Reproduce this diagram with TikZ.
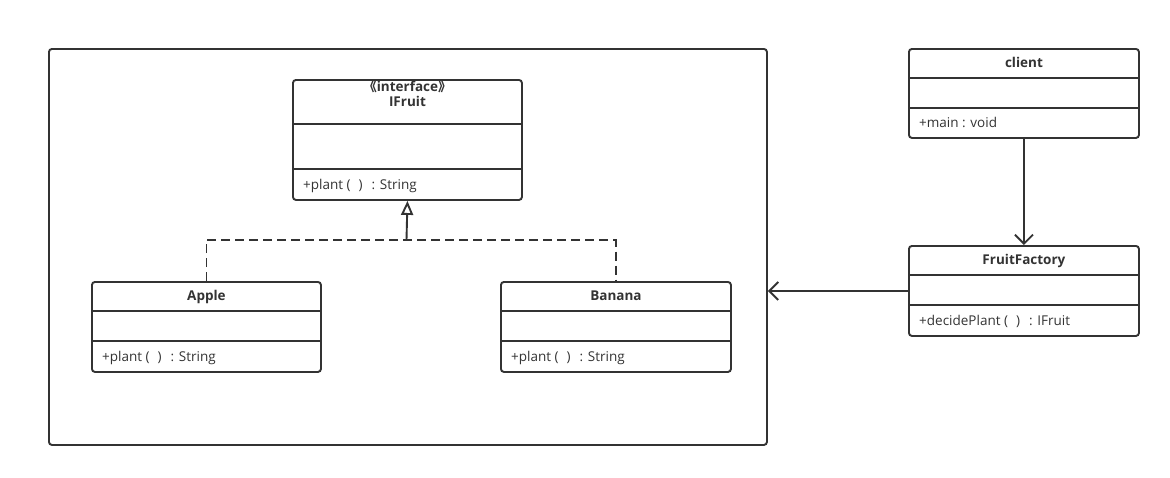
\documentclass[tikz,border=0pt]{standalone}
\usepackage{fontspec}
\setmainfont{Open Sans}
\newfontfamily\cjk{Noto Sans CJK SC}
\usetikzlibrary{arrows.meta}
\definecolor{linec}{HTML}{333333}
\begin{document}
\begin{tikzpicture}[x=1pt,y=-1pt,
  box/.style={draw=linec, line width=1.9pt, rounded corners=3pt, inner sep=0pt, anchor=north west},
  sepl/.style={draw=linec, line width=1.9pt},
  ttl/.style={font=\fontsize{13.5}{15}\selectfont\bfseries, text=linec, inner sep=0pt, text height=9.5pt, text depth=2.5pt},
  meth/.style={font=\fontsize{13.5}{15}\selectfont, text=linec, inner sep=0pt, anchor=west, text height=9.5pt, text depth=2.5pt},
  conn/.style={draw=linec, line width=1.9pt},
  barb/.style={-{Straight Barb[length=9pt,width=18pt,line width=1.9pt]}},
  real/.style={-{Triangle[open,length=14pt,width=12pt,line width=1.9pt]}}
]
\useasboundingbox (0,0) rectangle (1170,477);

% frame
\node[box, minimum width=718pt, minimum height=396pt] (frame) at (48,48) {};

% IFruit
\node[box, minimum width=229pt, minimum height=120pt] (ifruit) at (292,79) {};
\draw[sepl] ([yshift=-45pt]ifruit.north west) -- ([yshift=-45pt]ifruit.north east);
\draw[sepl] ([yshift=-90pt]ifruit.north west) -- ([yshift=-90pt]ifruit.north east);
\node[ttl] (ifruitS) at ([yshift=-8.5pt]ifruit.north) {{\cjk\bfseries 《}interface{\cjk\bfseries 》}};
\node[ttl] (ifruitT) at ([yshift=-24pt]ifruit.north) {IFruit};
\node[meth] (ifruitM) at ([xshift=11pt,yshift=15pt]ifruit.south west) {+plant (\hspace{8pt})\hspace{9pt}: String};

% Apple
\node[box, minimum width=229pt, minimum height=90pt] (apple) at (91,281) {};
\draw[sepl] ([yshift=-30pt]apple.north west) -- ([yshift=-30pt]apple.north east);
\draw[sepl] ([yshift=-60pt]apple.north west) -- ([yshift=-60pt]apple.north east);
\node[ttl] (appleT) at ([yshift=-16pt]apple.north) {Apple};
\node[meth] (appleM) at ([xshift=11pt,yshift=15pt]apple.south west) {+plant (\hspace{8pt})\hspace{9pt}: String};

% Banana
\node[box, minimum width=230pt, minimum height=90pt] (banana) at (500,281) {};
\draw[sepl] ([yshift=-30pt]banana.north west) -- ([yshift=-30pt]banana.north east);
\draw[sepl] ([yshift=-60pt]banana.north west) -- ([yshift=-60pt]banana.north east);
\node[ttl] (bananaT) at ([yshift=-16pt]banana.north) {Banana};
\node[meth] (bananaM) at ([xshift=11pt,yshift=15pt]banana.south west) {+plant (\hspace{8pt})\hspace{9pt}: String};

% client
\node[box, minimum width=230pt, minimum height=89pt] (client) at (908,48) {};
\draw[sepl] ([yshift=-30pt]client.north west) -- ([yshift=-30pt]client.north east);
\draw[sepl] ([yshift=-60pt]client.north west) -- ([yshift=-60pt]client.north east);
\node[ttl] (clientT) at ([yshift=-16pt]client.north) {client};
\node[meth] (clientM) at ([xshift=11pt,yshift=14.5pt]client.south west) {+main : void};

% FruitFactory
\node[box, minimum width=230pt, minimum height=90pt] (ff) at (908,245) {};
\draw[sepl] ([yshift=-30pt]ff.north west) -- ([yshift=-30pt]ff.north east);
\draw[sepl] ([yshift=-60pt]ff.north west) -- ([yshift=-60pt]ff.north east);
\node[ttl] (ffT) at ([yshift=-16pt]ff.north) {FruitFactory};
\node[meth] (ffM) at ([xshift=11pt,yshift=15pt]ff.south west) {+decidePlant (\hspace{8pt})\hspace{9pt}: IFruit};

% realization
\coordinate (junc) at (406.5,240);
\draw[conn, dashed, dash pattern=on 9pt off 5pt] (apple.north) |- (junc) -| (banana.north);
\draw[conn, real] (junc) -- (ifruit.south);

% dependencies
\draw[conn, barb] (client.south) -- (ff.north);
\draw[conn, barb] (ff.west) -- (ff.west -| frame.east);
\end{tikzpicture}
\end{document}
